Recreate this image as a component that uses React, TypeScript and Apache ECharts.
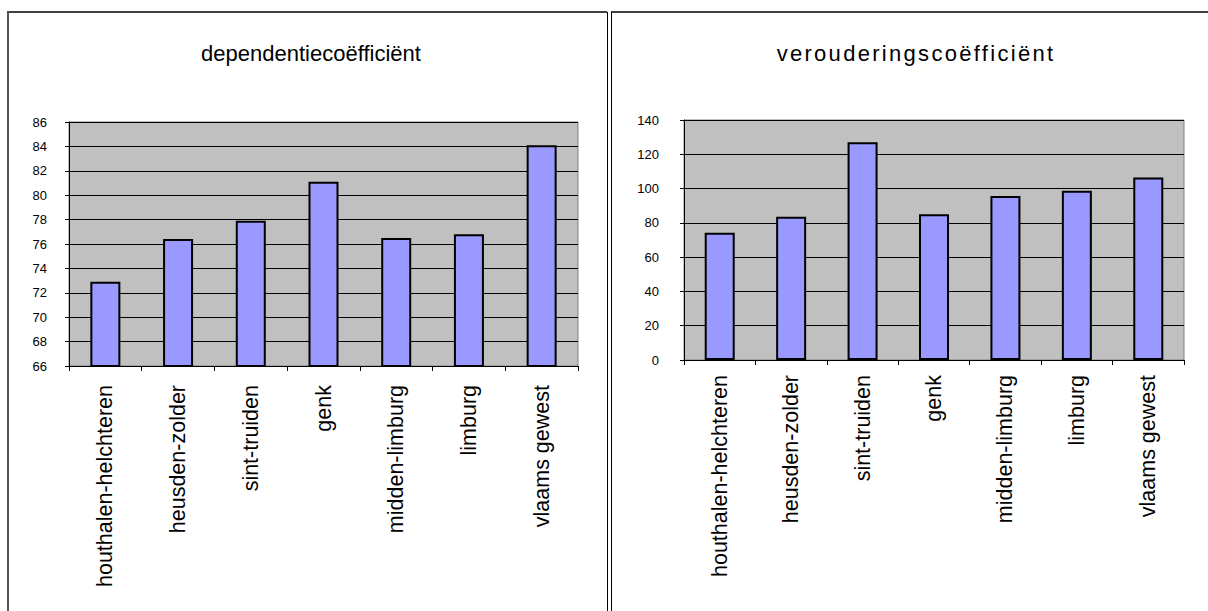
import React, { useEffect, useRef } from "react";
import * as echarts from "echarts";

const categories = [
  "houthalen-helchteren",
  "heusden-zolder",
  "sint-truiden",
  "genk",
  "midden-limburg",
  "limburg",
  "vlaams gewest",
];
const dependentie = [72.9, 76.4, 77.9, 81.1, 76.5, 76.8, 84.1];
const veroudering = [74.3, 83.6, 127.0, 85.0, 95.7, 98.8, 106.4];
const leftTitle = "dependentiecoëfficiënt";
const rightTitle = "verouderingscoëfficiënt";
const leftMin = 66;
const leftMax = 86;
const leftStep = 2;
const rightMin = 0;
const rightMax = 140;
const rightStep = 20;

const FONT = "'Liberation Sans', Arial, sans-serif";

function yAxis(gridIndex: number, min: number, max: number, interval: number, margin: number) {
  return {
    type: "value",
    gridIndex,
    min,
    max,
    interval,
    axisLine: { show: true, lineStyle: { color: "#000", width: 1 } },
    axisTick: { show: true, length: 4, lineStyle: { color: "#000" } },
    axisLabel: { color: "#000", fontSize: 13, fontFamily: FONT, margin },
    splitLine: { show: true, lineStyle: { color: "#000", width: 1 } },
  };
}

function xAxis(gridIndex: number, margin: number) {
  return {
    type: "category",
    gridIndex,
    data: categories,
    axisLine: { show: true, lineStyle: { color: "#000", width: 1 } },
    axisTick: { show: true, length: 5, lineStyle: { color: "#000" } },
    axisLabel: {
      rotate: 90,
      color: "#000",
      fontSize: 21.5,
      fontFamily: FONT,
      margin,
      interval: 0,
    },
  };
}

function barSeries(idx: number, data: number[]) {
  return {
    type: "bar",
    xAxisIndex: idx,
    yAxisIndex: idx,
    data,
    barWidth: 30,
    itemStyle: { color: "#9999ff", borderColor: "#000", borderWidth: 2 },
  };
}

export default function App() {
  const ref = useRef<HTMLDivElement>(null);
  useEffect(() => {
    if (!ref.current) return;
    const chart = echarts.init(ref.current, undefined, { renderer: "svg" });
    const line = (x1: number, y1: number, x2: number, y2: number, color: string, width: number) => ({
      type: "line",
      shape: { x1, y1, x2, y2 },
      style: { stroke: color, lineWidth: width },
      silent: true,
    });
    chart.setOption({
      animation: false,
      backgroundColor: "#fff",
      title: [
        {
          text: leftTitle,
          left: 306,
          top: 37,
          textAlign: "center",
          textStyle: { fontSize: 22, fontWeight: "normal", color: "#000", fontFamily: FONT },
        },
        {
          text: rightTitle,
          left: 911,
          top: 37,
          textAlign: "center",
          textStyle: { fontSize: 22, fontWeight: "normal", color: "#000", fontFamily: FONT },
        },
      ],
      grid: [
        {
          left: 69,
          top: 122,
          width: 509,
          height: 244,
          show: true,
          backgroundColor: "#c0c0c0",
          borderColor: "#808080",
          borderWidth: 1,
        },
        {
          left: 684,
          top: 120,
          width: 500,
          height: 240,
          show: true,
          backgroundColor: "#c0c0c0",
          borderColor: "#808080",
          borderWidth: 1,
        },
      ],
      xAxis: [xAxis(0, 19), xAxis(1, 15)],
      yAxis: [yAxis(0, leftMin, leftMax, leftStep, 22), yAxis(1, rightMin, rightMax, rightStep, 25)],
      series: [barSeries(0, dependentie), barSeries(1, veroudering)],
      graphic: [
        line(7, 12, 607, 12, "#000", 1.5),
        line(8, 12, 8, 611, "#555", 2),
        line(607.5, 12, 607.5, 611, "#000", 1),
        line(611.5, 12, 611.5, 611, "#000", 1),
        line(611, 12, 1208, 12, "#000", 1.5),
      ],
    });
    const spaceTitle = () => {
      const texts = ref.current?.querySelectorAll("text") || [];
      texts.forEach((t) => {
        if (t.textContent === rightTitle) t.setAttribute("letter-spacing", "2.3");
      });
    };
    spaceTitle();
    chart.on("finished", spaceTitle);
    return () => {
      chart.dispose();
    };
  }, []);
  return (
    <div
      ref={ref}
      style={{ position: "fixed", left: 0, top: 0, width: 1208, height: 611 }}
    />
  );
}
